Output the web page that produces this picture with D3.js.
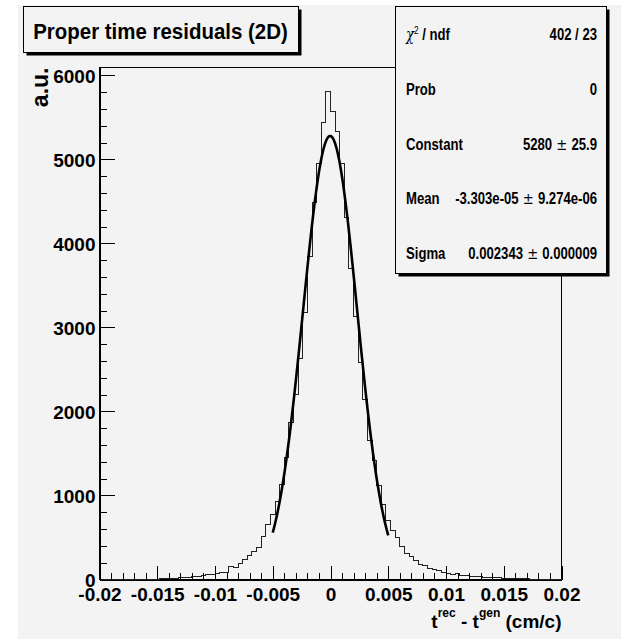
<!DOCTYPE html>
<html><head><meta charset="utf-8">
<script src="https://cdn.jsdelivr.net/npm/d3@7"></script>
<style>
body{margin:0;background:#fff}
svg{display:block}
text{font-family:"Liberation Sans",Arial,Helvetica,sans-serif;font-weight:bold;fill:#000}
</style>
</head><body>
<svg id="c" width="621" height="639"></svg>
<script>
// ---------- data ----------
const xMin = -0.02, xMax = 0.02, nBins = 100;
const yMax = 6095;
const counts = [
  0,1,0,1,1,1,2,2,2,3,
  3,4,5,6,8,12,16,20,24,28,
  33,38,44,55,62,72,78,84,150,138,
  192,240,291,331,385,510,660,779,930,1136,
  1449,1865,2206,2630,3174,3847,4482,4958,5445,5810,
  5572,5334,4950,4315,3701,3126,2579,2143,1659,1413,
  1124,898,700,589,500,390,311,272,224,176,
  161,133,121,105,85,73,62,70,53,45,
  41,33,30,26,24,20,18,15,12,10,
  9,8,6,5,4,3,3,2,2,1
];
const xTicks = [-0.02,-0.015,-0.01,-0.005,0,0.005,0.01,0.015,0.02];
const xTickLabels = ["-0.02","-0.015","-0.01","-0.005","0","0.005","0.01","0.015","0.02"];
const yTicks = [0,1000,2000,3000,4000,5000,6000];
const yTickLabels = ["0","1000","2000","3000","4000","5000","6000"];
const fitConstant = 5280, fitMean = -3.303e-05, fitSigma = 0.002343;
const fitRange = [-0.005, 0.005];
const statsLabels = ["ndf","Prob","Constant","Mean","Sigma"];
const statsValues = [["402 / 23"],["0"],["5280","25.9"],["-3.303e-05","9.274e-06"],["0.002343","0.000009"]];
const titleText = "Proper time residuals (2D)";
const yTitle = "a.u.";

// ---------- layout ----------
const L = 99.5, R = 561.5, T = 67.5, B = 579.5;
const svg = d3.select("#c");
svg.append("rect").attr("x",18).attr("y",5).attr("width",603).attr("height",634).attr("fill","#f3f3f3");

const x = d3.scaleLinear().domain([xMin,xMax]).range([L,R]);
const y = d3.scaleLinear().domain([0,yMax]).range([B,T]);

// frame
svg.append("rect").attr("x",L).attr("y",T).attr("width",R-L).attr("height",B-T)
  .attr("fill","none").attr("stroke","#000").attr("stroke-width",1).attr("shape-rendering","crispEdges");

// histogram
const w = (xMax-xMin)/nBins;
const pts = counts.map((c,i)=>[xMin+i*w, c]);
pts.push([xMax, counts[nBins-1]]);
svg.append("path").attr("d", d3.line().x(d=>x(d[0])).y(d=>y(d[1])).curve(d3.curveStepAfter)(pts))
  .attr("fill","none").attr("stroke","#222").attr("stroke-width",1).attr("shape-rendering","crispEdges");

// fit
const fx = d3.range(0,201).map(i=>fitRange[0]+(fitRange[1]-fitRange[0])*i/200);
const gauss = t => fitConstant*Math.exp(-0.5*Math.pow((t-fitMean)/fitSigma,2));
svg.append("path").attr("d", d3.line().x(t=>x(t)).y(t=>y(gauss(t)))(fx))
  .attr("fill","none").attr("stroke","#000").attr("stroke-width",2.6);

// axes
const xMinor = d3.range(-20,21).map(k=>k/1000);
svg.append("g").attr("transform",`translate(0,${B})`)
  .call(d3.axisBottom(x).tickValues(xMinor).tickSize(-7).tickSizeOuter(0).tickFormat(""));
svg.append("g").attr("transform",`translate(0,${B})`)
  .call(d3.axisBottom(x).tickValues(xTicks).tickSize(-14).tickSizeOuter(0).tickPadding(8.5)
    .tickFormat((d,i)=>xTickLabels[i]));
const yMinor = d3.range(0,6001,200);
svg.append("g").attr("transform",`translate(${L},0)`)
  .call(d3.axisLeft(y).tickValues(yMinor).tickSize(-7).tickSizeOuter(0).tickFormat(""));
const yMaj = svg.append("g").attr("transform",`translate(${L},0)`)
  .call(d3.axisLeft(y).tickValues(yTicks).tickSize(-15).tickSizeOuter(0).tickPadding(4)
    .tickFormat((d,i)=>yTickLabels[i]));
svg.selectAll(".tick line, .domain").attr("stroke","#000").attr("shape-rendering","crispEdges");
svg.selectAll(".tick text").attr("font-family",'"Liberation Sans",Arial,sans-serif')
  .attr("font-weight","bold").attr("font-size",19).attr("fill","#000");
yMaj.selectAll(".tick text").attr("dy","0.36em");

// axis titles
const xt = svg.append("text").attr("x",R).attr("y",628).attr("text-anchor","end").attr("font-size",19);
xt.append("tspan").text("t");
xt.append("tspan").attr("font-size",12).attr("dy",-11).text("rec");
xt.append("tspan").attr("dy",11).text(" - t");
xt.append("tspan").attr("font-size",12).attr("dy",-11).text("gen");
xt.append("tspan").attr("dy",11).text(" (cm/c)");

svg.append("text").attr("transform",`translate(48,${T}) rotate(-90)`).attr("text-anchor","end")
  .attr("font-size",23).text(yTitle);

// boxes with shadow
function box(x0,y0,x1,y1){
  svg.append("rect").attr("x",x0+3).attr("y",y0+3).attr("width",x1-x0).attr("height",y1-y0).attr("fill","#000");
  svg.append("rect").attr("x",x0).attr("y",y0).attr("width",x1-x0).attr("height",y1-y0)
    .attr("fill","#f3f3f3").attr("stroke","#000").attr("stroke-width",1).attr("shape-rendering","crispEdges");
}
box(23.5,6.5,298.5,52.5);
svg.append("text").attr("transform","translate(160.5,38.5) scale(0.93,1)").attr("text-anchor","middle")
  .attr("font-size",22).text(titleText);

// stats box
box(395.5,6.5,606.5,273.5);
statsLabels.forEach((lab,i)=>{
  const by = 149.5 + 54.8*(i-2);
  const t = svg.append("text").attr("transform",`translate(406,${by}) scale(0.82,1)`).attr("font-size",16);
  if(i===0){
    t.append("tspan").attr("font-family",'"DejaVu Serif",serif').attr("font-weight","normal").attr("font-style","italic").text("χ");
    t.append("tspan").attr("font-size",10).attr("dy",-6).attr("font-weight","normal").text("2");
    t.append("tspan").attr("dy",6).text(" / "+lab);
  } else t.text(lab);
  const v = svg.append("text").attr("transform",`translate(597,${by}) scale(0.82,1)`).attr("font-size",16).attr("text-anchor","end");
  const parts = statsValues[i];
  v.append("tspan").text(parts[0]);
  if(parts.length>1){
    v.append("tspan").attr("font-weight","normal").attr("font-family",'"DejaVu Sans",sans-serif').text(" ± ");
    v.append("tspan").text(parts[1]);
  }
});
</script>
</body></html>
